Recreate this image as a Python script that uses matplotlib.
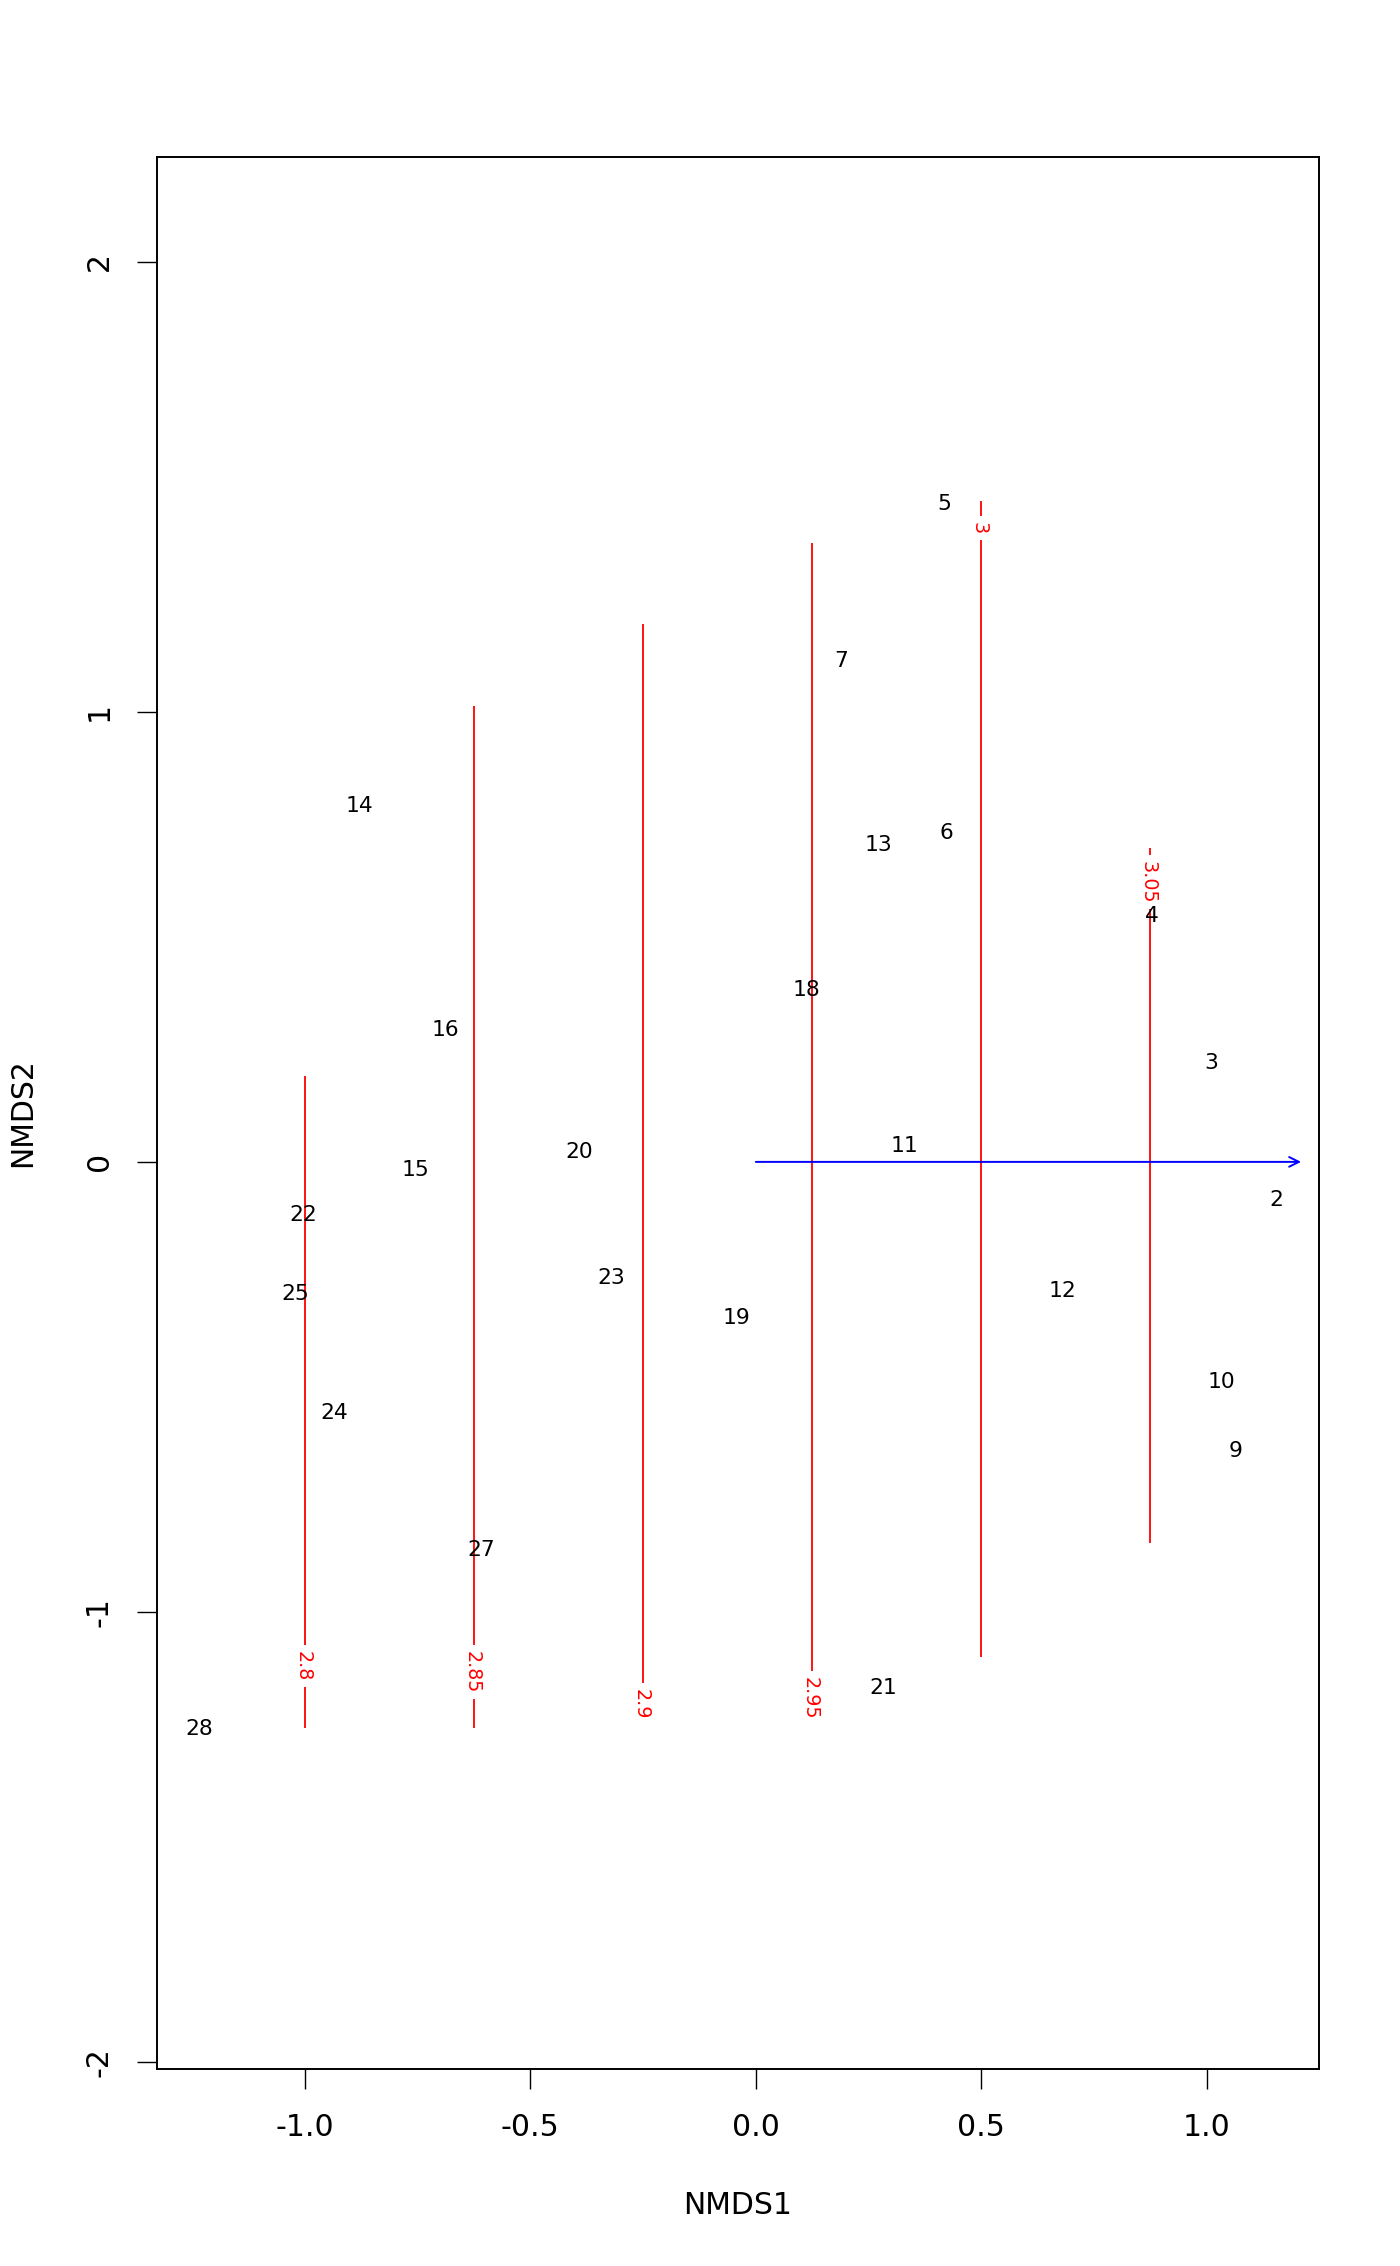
import matplotlib
matplotlib.use("Agg")
import matplotlib.pyplot as plt

# site scores (NMDS1, NMDS2)
site_ids = ["2", "3", "4", "5", "6", "7", "9", "10", "11", "12", "13", "14", "15",
            "16", "18", "19", "20", "21", "22", "23", "24", "25", "27", "28"]
site_x = [1.154, 1.010, 0.878, 0.417, 0.423, 0.189, 1.064, 1.032, 0.330, 0.679, 0.272, -0.878, -0.755,
          -0.689, 0.112, -0.042, -0.391, 0.282, -1.004, -0.321, -0.934, -1.021, -0.609, -1.234]
site_y = [-0.084, 0.219, 0.547, 1.463, 0.730, 1.113, -0.643, -0.489, 0.035, -0.286, 0.704, 0.791, -0.019,
          0.293, 0.383, -0.347, 0.023, -1.170, -0.117, -0.257, -0.557, -0.294, -0.862, -1.260]

# fitted surface contours (straight vertical lines)
contour_levels = ["2.8", "2.85", "2.9", "2.95", "3", "3.05"]
contour_x = [-1.0, -0.625, -0.25, 0.125, 0.5, 0.875]
contour_top = [0.190, 1.013, 1.196, 1.376, 1.469, 0.698]
contour_bottom = [-1.257, -1.257, -1.25, -1.25, -1.100, -0.848]
contour_label_y = [-1.120, -1.133, -1.205, -1.191, 1.408, 0.622]

# fitted vector
arrow_x = 1.209
arrow_y = 0.0

xticks = [-1.0, -0.5, 0.0, 0.5, 1.0]
xticklabels = ["-1.0", "-0.5", "0.0", "0.5", "1.0"]
yticks = [-2, -1, 0, 1, 2]
yticklabels = ["-2", "-1", "0", "1", "2"]

plt.rcParams["font.family"] = ["DejaVu Sans"]

fig = plt.figure(figsize=(14, 22.66), dpi=100)
ax = fig.add_axes([0.1124, 0.0869, 0.8298, 0.8438])
ax.set_xlim(-1.327, 1.249)
ax.set_ylim(-2.016, 2.233)

for lev, x, top, bot, ly in zip(contour_levels, contour_x, contour_top,
                                contour_bottom, contour_label_y):
    ax.plot([x, x], [bot, top], color="red", lw=1.3, zorder=2, solid_capstyle="butt")
    # white box hides the line under the label, like R's contour labels
    ax.text(x, ly, lev, color="red", fontsize=13.8, rotation=270,
            ha="center", va="center_baseline", rotation_mode="anchor", zorder=3,
            bbox=dict(boxstyle="square,pad=0.3", fc="white", ec="none"))

ax.annotate("", xy=(arrow_x, arrow_y), xytext=(0, 0),
            arrowprops=dict(arrowstyle="->,head_length=0.7,head_width=0.35",
                            color="blue", lw=1.4, shrinkA=0, shrinkB=0,
                            mutation_scale=10), zorder=2.5)

for lab, x, y in zip(site_ids, site_x, site_y):
    ax.text(x, y, lab, fontsize=15.7, ha="center", va="center", zorder=4)

ax.set_xticks(xticks)
ax.set_xticklabels(xticklabels, fontsize=21.5)
ax.set_yticks(yticks)
ax.set_yticklabels(yticklabels, fontsize=21.5, rotation=90, va="center")
ax.tick_params(direction="out", length=14.4, width=1.0, pad=17)
for sp in ax.spines.values():
    sp.set_linewidth(1.4)

fig.text(0.527, 0.0269, "NMDS1", fontsize=21.5, ha="center", va="center")
fig.text(0.0164, 0.5088, "NMDS2", fontsize=21.5, ha="center", va="center", rotation=90)

fig.savefig("out.png", dpi=100)
